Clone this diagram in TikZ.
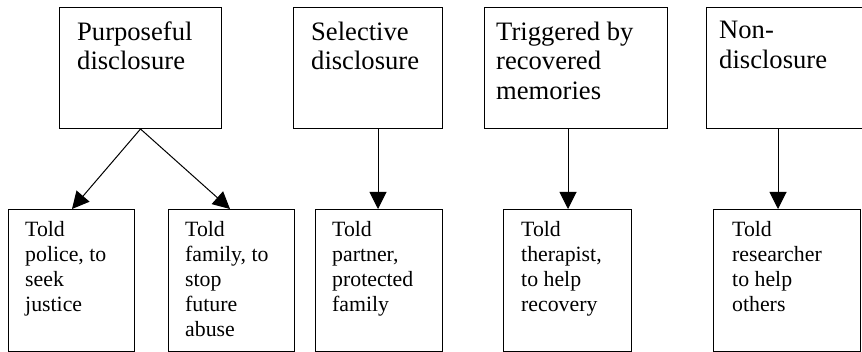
\documentclass[tikz,border=0pt]{standalone}
\usepackage{fontspec}
\setmainfont{Liberation Serif}
\usetikzlibrary{arrows.meta,calc}
\begin{document}
\begin{tikzpicture}[x=1pt,y=-1pt,
  box/.style={draw=black,line width=1pt,rectangle,inner sep=0pt,anchor=north west},
  toptext/.style={anchor=north west,align=left,inner sep=0pt,font=\fontsize{26.6}{29.5}\selectfont,execute at begin node=\strut},
  bottext/.style={anchor=north west,align=left,inner sep=0pt,font=\fontsize{21.8}{25}\selectfont,execute at begin node=\strut},
  conn/.style={line width=1pt,-{Triangle[length=17pt,width=17pt]}}]
\useasboundingbox (0,0) rectangle (862,352);
\clip (0,0) rectangle (862,352);
% top boxes
\node[box,minimum width=162pt,minimum height=121pt] (t1) at (59,7) {};
\node[box,minimum width=149pt,minimum height=121pt] (t2) at (293,7) {};
\node[box,minimum width=183pt,minimum height=121pt] (t3) at (484,7) {};
\node[box,minimum width=170pt,minimum height=121pt] (t4) at (706,7) {};
\node[toptext] (t1l) at (77,21.35) {Purposeful\\disclosure};
\node[toptext] (t2l) at (311,21.35) {Selective\\disclosure};
\node[toptext] (t3l) at (496,21.35) {Triggered by\\recovered\\memories};
\node[toptext] (t4l) at (719,21.35) {Non-\\disclosure};
% bottom boxes
\node[box,minimum width=126pt,minimum height=142pt] (b1) at (8,209) {};
\node[box,minimum width=126pt,minimum height=142pt] (b2) at (168,209) {};
\node[box,minimum width=127pt,minimum height=142pt] (b3) at (315,209) {};
\node[box,minimum width=128pt,minimum height=142pt] (b4) at (503,209) {};
\node[box,minimum width=147pt,minimum height=142pt] (b5) at (713,209) {};
\node[bottext] (b1l) at (25,221.5) {Told\\police, to\\seek\\justice};
\node[bottext] (b2l) at (185,221.5) {Told\\family, to\\stop\\future\\abuse};
\node[bottext] (b3l) at (332,221.5) {Told\\partner,\\protected\\family};
\node[bottext] (b4l) at (521,221.5) {Told\\therapist,\\to help\\recovery};
\node[bottext] (b5l) at (732,221.5) {Told\\researcher\\to help\\others};
% connectors
\draw[conn] (t1.south) -- (b1.north -| 72,0);
\draw[conn] (t1.south) -- (b2.north -| 230,0);
\draw[conn] (t2.south -| 378,0) -- (b3.north -| 378,0);
\draw[conn] (t3.south -| 568,0) -- (b4.north -| 568,0);
\draw[conn] (t4.south -| 778,0) -- (b5.north -| 778,0);
\end{tikzpicture}
\end{document}
